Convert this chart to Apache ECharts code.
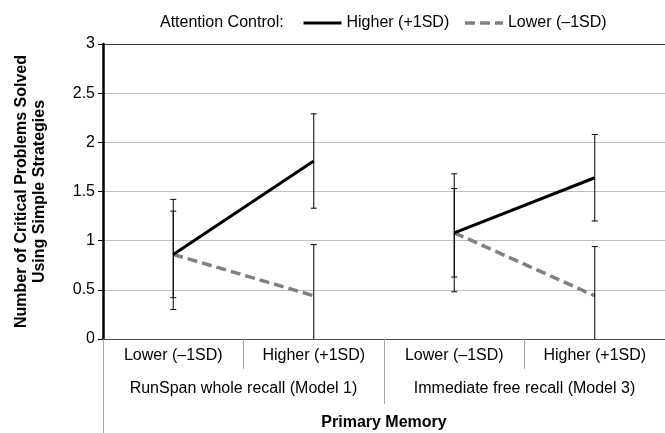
<!DOCTYPE html>
<html>
<head>
<meta charset="utf-8">
<script src="https://cdn.jsdelivr.net/npm/echarts@6/dist/echarts.min.js"></script>
<style>
  html, body { margin: 0; padding: 0; background: #fff; }
  #chart { width: 665px; height: 433px; }
</style>
</head>
<body>
<div id="chart"></div>
<script>
// Category labels (first level) and the group each one belongs to
const categories = ['Lower (–1SD)', 'Higher (+1SD)', 'Lower (–1SD)', 'Higher (+1SD)'];
const categoryGroup = [0, 0, 1, 1];
const groups = ['RunSpan whole recall (Model 1)', 'Immediate free recall (Model 3)'];
const axisTitle = 'Primary Memory';

// Attention control: higher (+1SD)
const higherMeans = [0.86, 1.81, 1.08, 1.64];
const higherErr = [0.56, 0.48, 0.60, 0.44];

// Attention control: lower (−1SD)
const lowerMeans = [0.86, 0.44, 1.08, 0.44];
const lowerErr = [0.44, 0.52, 0.45, 0.50];

const yMin = 0, yMax = 3, yStep = 0.5;

const FONT = 'Liberation Sans, Arial, sans-serif';
const HIGHER = 'Higher (+1SD)';
const LOWER = 'Lower (–1SD)';

const higherStyle = { color: '#000', width: 3, type: 'solid' };
const lowerStyle = { color: '#808080', width: 3.5, type: [10, 5], cap: 'butt' };

// One line per group so the two groups are not joined
function groupData(values, g) {
  return values.map((v, i) => (categoryGroup[i] === g ? v : '-'));
}

function lineSeries(name, values, style) {
  return groups.map((_, g) => ({
    name: name,
    type: 'line',
    xAxisIndex: 0,
    data: groupData(values, g),
    symbol: 'none',
    connectNulls: false,
    lineStyle: style,
    itemStyle: { color: style.color },
    z: 3,
    silent: true
  }));
}

function errorData(means, errs) {
  return means.map((m, i) => [i, Math.max(yMin, m - errs[i]), m + errs[i]]);
}

function errorSeries(means, errs) {
  return {
    type: 'custom',
    xAxisIndex: 0,
    data: errorData(means, errs),
    z: 4,
    silent: true,
    renderItem: function (params, api) {
      const x = api.value(0);
      const lowV = api.value(1);
      const highV = api.value(2);
      const lo = api.coord([x, lowV]);
      const hi = api.coord([x, highV]);
      const cap = 3;
      const style = { stroke: '#000', lineWidth: 1, fill: null };
      const children = [
        { type: 'line', shape: { x1: lo[0], y1: lo[1], x2: hi[0], y2: hi[1] }, style: style },
        { type: 'line', shape: { x1: hi[0] - cap, y1: hi[1], x2: hi[0] + cap, y2: hi[1] }, style: style }
      ];
      if (lowV > yMin) {
        children.push({ type: 'line', shape: { x1: lo[0] - cap, y1: lo[1], x2: lo[0] + cap, y2: lo[1] }, style: style });
      }
      return { type: 'group', children: children };
    }
  };
}

const chart = echarts.init(document.getElementById('chart'), null, { renderer: 'canvas' });

const gridLineColors = ['#bfbfbf', '#bfbfbf', '#bfbfbf', '#bfbfbf', '#bfbfbf', '#bfbfbf', '#3a3a3a'];

chart.setOption({
  animation: false,
  backgroundColor: '#fff',
  textStyle: { fontFamily: FONT },
  title: {
    text: 'Attention Control:',
    left: 155,
    top: 10,
    textStyle: { fontFamily: FONT, fontSize: 16, fontWeight: 'normal', color: '#000' }
  },
  legend: {
    data: [
      { name: HIGHER, lineStyle: { width: higherStyle.width } },
      { name: LOWER, lineStyle: { width: lowerStyle.width } }
    ],
    left: 297,
    top: 10,
    itemWidth: 38,
    itemHeight: 14,
    itemGap: 14,
    selectedMode: false,
    itemStyle: { opacity: 0 },
    textStyle: { fontFamily: FONT, fontSize: 16, color: '#000' }
  },
  grid: { left: 103, right: -10, top: 44, bottom: 94 },
  xAxis: [
    {
      type: 'category',
      data: categories,
      boundaryGap: true,
      position: 'bottom',
      axisLine: { show: true, lineStyle: { color: '#4d4d4d', width: 1 } },
      axisTick: { show: true, length: 30, lineStyle: { color: '#a6a6a6', width: 1 } },
      axisLabel: { fontFamily: FONT, fontSize: 16, color: '#000', margin: 9, interval: 0 },
      splitLine: { show: false }
    },
    {
      type: 'category',
      data: groups,
      boundaryGap: true,
      position: 'bottom',
      axisLine: { show: false },
      axisTick: { show: true, length: 65, lineStyle: { color: '#a6a6a6', width: 1 } },
      axisLabel: { fontFamily: FONT, fontSize: 16, color: '#000', margin: 42, interval: 0 },
      splitLine: { show: false }
    },
    {
      type: 'category',
      data: [axisTitle],
      boundaryGap: true,
      position: 'bottom',
      axisLine: { show: false },
      axisTick: { show: true, length: 96, lineStyle: { color: '#a6a6a6', width: 1 } },
      axisLabel: { fontFamily: FONT, fontSize: 16, fontWeight: 'bold', color: '#000', margin: 76, interval: 0 },
      splitLine: { show: false }
    }
  ],
  yAxis: {
    type: 'value',
    min: yMin,
    max: yMax,
    interval: yStep,
    name: 'Number of Critical Problems Solved\nUsing Simple Strategies',
    nameLocation: 'middle',
    nameGap: 54,
    nameRotate: 90,
    nameTextStyle: { fontFamily: FONT, fontSize: 16, fontWeight: 'bold', color: '#000', lineHeight: 18, align: 'center' },
    axisLine: { show: true, lineStyle: { color: '#000', width: 2.5 } },
    axisTick: { show: true, inside: false, length: 5, lineStyle: { color: '#000', width: 1 } },
    axisLabel: { fontFamily: FONT, fontSize: 16, color: '#000', margin: 8 },
    splitLine: { show: true, lineStyle: { color: gridLineColors, width: 1 } }
  },
  series: [
    errorSeries(higherMeans, higherErr),
    errorSeries(lowerMeans, lowerErr),
    ...lineSeries(LOWER, lowerMeans, lowerStyle),
    ...lineSeries(HIGHER, higherMeans, higherStyle)
  ]
});
</script>
</body>
</html>
